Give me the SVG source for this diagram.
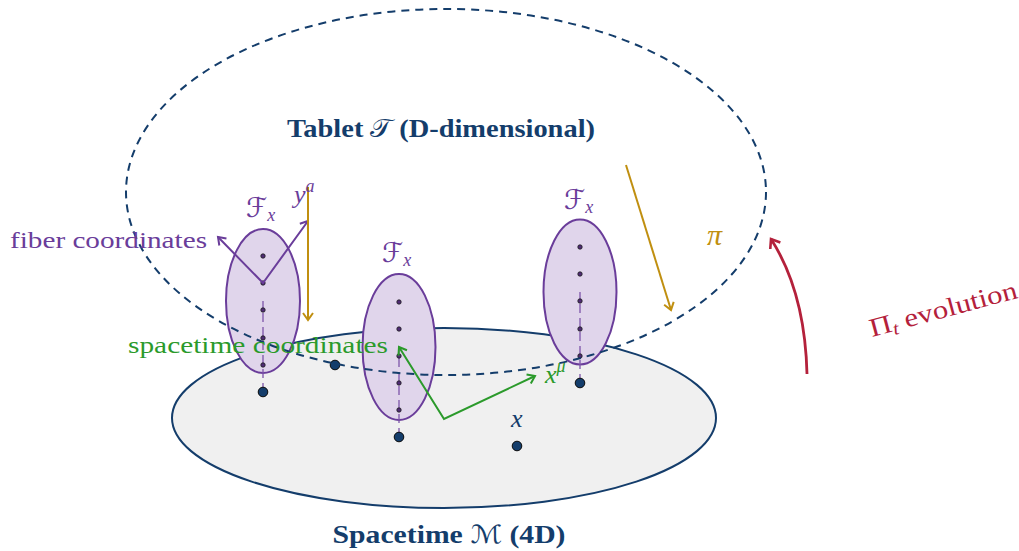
<svg xmlns="http://www.w3.org/2000/svg" width="1019" height="551" viewBox="0 0 1019 551">
  <defs>
    <style>
      .serif { font-family: "Liberation Serif", "DejaVu Serif", serif; }
      .script { font-family: "DejaVu Sans", "Liberation Serif", serif; font-style: normal; }
      .navy { fill: #143d6b; }
      .purple { fill: #6a3d9a; }
      .green { fill: #2b9a2b; }
      .gold { fill: #c08f10; }
      .red { fill: #b4213b; }
      .fiber { fill: #e0d5eb; stroke: #6a3d9a; stroke-width: 2; }
      .axis { stroke: #7d55aa; stroke-width: 1.3; stroke-dasharray: 9 5; fill: none; }
      .dot { fill: #4f2c74; stroke: #1a1a1a; stroke-width: 0.8; }
      .base { fill: #143d6b; stroke: #0a0a0a; stroke-width: 1; }
      .label { font-size: 24px; }
      .math { font-style: italic; }
    </style>
    <marker id="ah-purple" markerWidth="12" markerHeight="12" refX="9" refY="6" orient="auto-start-reverse" markerUnits="userSpaceOnUse">
      <path d="M2,1 L9,6 L2,11" fill="none" stroke="#6a3d9a" stroke-width="2"/>
    </marker>
    <marker id="ah-green" markerWidth="12" markerHeight="12" refX="9" refY="6" orient="auto-start-reverse" markerUnits="userSpaceOnUse">
      <path d="M2,1 L9,6 L2,11" fill="none" stroke="#2b9a2b" stroke-width="2"/>
    </marker>
    <marker id="ah-gold" markerWidth="12" markerHeight="12" refX="9" refY="6" orient="auto" markerUnits="userSpaceOnUse">
      <path d="M2,1 L9,6 L2,11" fill="none" stroke="#c08f10" stroke-width="2"/>
    </marker>
    <marker id="ah-red" markerWidth="14" markerHeight="14" refX="10" refY="7" orient="auto" markerUnits="userSpaceOnUse">
      <path d="M2,1 L10,7 L2,13" fill="none" stroke="#b4213b" stroke-width="2.6"/>
    </marker>
  </defs>

  <rect width="1019" height="551" fill="#ffffff"/>

  <!-- base manifold -->
  <g id="spacetime">
    <ellipse cx="444" cy="418" rx="272" ry="90" fill="#f0f0f0" stroke="#143d6b" stroke-width="2"/>
    <text class="serif navy" x="449" y="543" font-size="25" font-weight="bold" text-anchor="middle" textLength="233" lengthAdjust="spacingAndGlyphs">Spacetime <tspan class="script" font-weight="normal">ℳ</tspan> (4D)</text>
  </g>

  <!-- fibers over three base points -->
  <g id="fiber-left">
    <ellipse class="fiber" cx="263" cy="301" rx="37" ry="72"/>
    <line class="axis" x1="263" y1="392" x2="263" y2="301"/>
    <circle class="dot" cx="263" cy="256" r="2.2"/>
    <circle class="dot" cx="263" cy="283" r="2.2"/>
    <circle class="dot" cx="263" cy="310" r="2.2"/>
    <circle class="dot" cx="263" cy="338" r="2.2"/>
    <circle class="dot" cx="263" cy="365" r="2.2"/>
    <circle class="base" cx="263" cy="392" r="4.8"/>
    <text class="purple" x="246" y="217" font-size="27"><tspan class="script">ℱ</tspan><tspan class="serif math" font-size="18" dy="4">x</tspan></text>
  </g>

  <g id="fiber-middle">
    <ellipse class="fiber" cx="399" cy="347" rx="36.5" ry="73"/>
    <line class="axis" x1="399" y1="437" x2="399" y2="347"/>
    <circle class="dot" cx="399" cy="302" r="2.2"/>
    <circle class="dot" cx="399" cy="329" r="2.2"/>
    <circle class="dot" cx="399" cy="356" r="2.2"/>
    <circle class="dot" cx="399" cy="383" r="2.2"/>
    <circle class="dot" cx="399" cy="410" r="2.2"/>
    <circle class="base" cx="399" cy="437" r="4.8"/>
    <text class="purple" x="382" y="262" font-size="27"><tspan class="script">ℱ</tspan><tspan class="serif math" font-size="18" dy="4">x</tspan></text>
  </g>

  <g id="fiber-right">
    <ellipse class="fiber" cx="580" cy="292" rx="36.5" ry="72.5"/>
    <line class="axis" x1="580" y1="383" x2="580" y2="292"/>
    <circle class="dot" cx="580" cy="247" r="2.2"/>
    <circle class="dot" cx="580" cy="274" r="2.2"/>
    <circle class="dot" cx="580" cy="301" r="2.2"/>
    <circle class="dot" cx="580" cy="329" r="2.2"/>
    <circle class="dot" cx="580" cy="356" r="2.2"/>
    <circle class="base" cx="580" cy="383" r="4.8"/>
    <text class="purple" x="564" y="209" font-size="27"><tspan class="script">ℱ</tspan><tspan class="serif math" font-size="18" dy="4">x</tspan></text>
  </g>

  <!-- extra points of the base -->
  <g id="points">
    <circle class="base" cx="335" cy="365" r="4.8"/>
    <circle class="base" cx="517" cy="446" r="4.8"/>
    <text class="serif navy math" x="511" y="427" font-size="26">x</text>
  </g>

  <!-- total space -->
  <g id="tablet">
    <ellipse cx="446" cy="192" rx="320" ry="183" fill="none" stroke="#143d6b" stroke-width="2" stroke-dasharray="8 6"/>
    <text class="serif navy" x="441" y="137" font-size="25" font-weight="bold" text-anchor="middle" textLength="308" lengthAdjust="spacingAndGlyphs">Tablet <tspan class="script" font-weight="normal" font-style="italic">𝒯</tspan> (D-dimensional)</text>
  </g>

  <!-- connectors -->
  <g id="connectors" fill="none">
    <polyline points="218,237 263,283 308,221" stroke="#6a3d9a" stroke-width="2" marker-start="url(#ah-purple)" marker-end="url(#ah-purple)"/>
    <polyline points="399,347 444,419 535,376" stroke="#2b9a2b" stroke-width="2" marker-start="url(#ah-green)" marker-end="url(#ah-green)"/>
    <line x1="308" y1="187" x2="308" y2="320" stroke="#c08f10" stroke-width="2" marker-end="url(#ah-gold)"/>
    <line x1="626" y1="165" x2="671" y2="310" stroke="#c08f10" stroke-width="2" marker-end="url(#ah-gold)"/>
    <path d="M807,374 Q805,292 771,239" stroke="#b4213b" stroke-width="2.8" marker-end="url(#ah-red)"/>
  </g>

  <!-- labels -->
  <g id="labels">
    <text class="serif purple label" x="10" y="248" textLength="197" lengthAdjust="spacingAndGlyphs">fiber coordinates</text>
    <text class="serif green label" x="128" y="353" textLength="260" lengthAdjust="spacingAndGlyphs">spacetime coordinates</text>
    <text class="serif purple math" x="294" y="203" font-size="26">y<tspan font-size="18" dy="-11">a</tspan></text>
    <text class="serif green math" x="545" y="383" font-size="26">x<tspan font-size="18" dy="-11">μ</tspan></text>
    <text class="serif gold math" x="707" y="245" font-size="30">π</text>
    <text class="serif red" font-size="26" transform="translate(872,337) rotate(-15)" textLength="152" lengthAdjust="spacingAndGlyphs">Π<tspan class="math" font-size="18" dy="4">t</tspan><tspan dy="-4"> evolution</tspan></text>
  </g>
</svg>
